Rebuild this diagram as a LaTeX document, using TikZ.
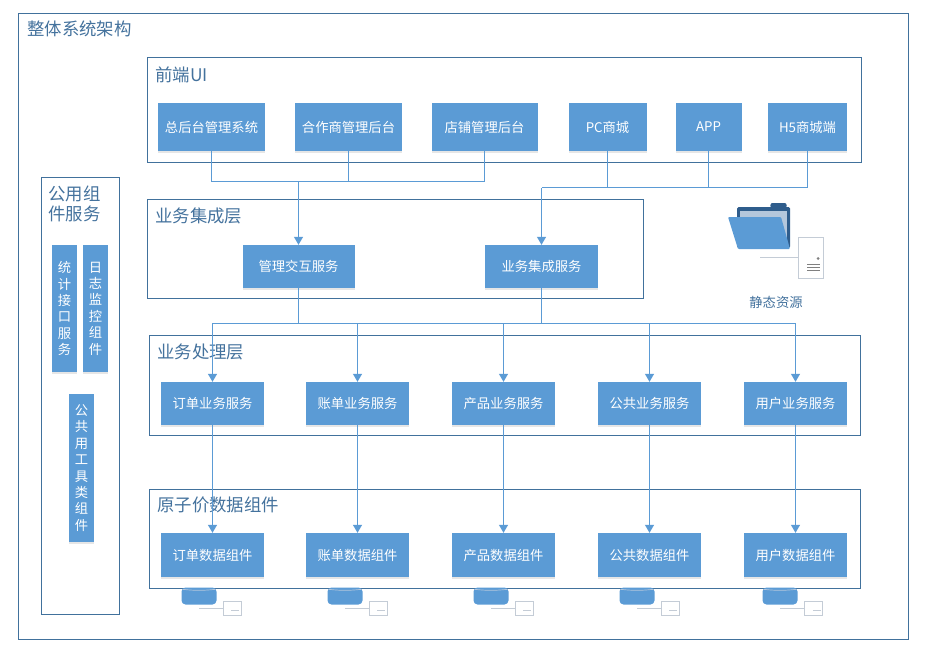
\documentclass[tikz,border=0pt]{standalone}
\usepackage{fontspec}
\setmainfont{Noto Sans CJK SC}
\usetikzlibrary{arrows.meta,shadows}
\definecolor{svcblue}{HTML}{5B9BD5}
\definecolor{framebl}{HTML}{41719C}
\definecolor{titlebl}{HTML}{44729D}
\definecolor{darkbl}{HTML}{2F5D8C}
\definecolor{paleblue}{HTML}{B4C7DC}
\definecolor{graybl}{HTML}{C4CCD6}
\tikzset{
  framebox/.style={draw=framebl,line width=0.8pt,inner sep=0pt},
  frametitle/.style={text=titlebl,font=\fontsize{17.4}{21}\selectfont,anchor=west,inner sep=0pt},
  svcbox/.style={fill=svcblue,text=white,font=\fontsize{13.3}{16}\selectfont,inner sep=0pt,
    drop shadow={shadow xshift=0pt,shadow yshift=-1.5pt,opacity=0.2,fill=gray}},
  vertbox/.style={svcbox,align=center,minimum width=25pt,font=\fontsize{13.3}{16.4}\selectfont},
  busline/.style={draw=svcblue,line width=1.2pt},
  arrowline/.style={busline,-{Triangle[width=9pt,length=8pt]}},
  dbicon/.style={fill=svcblue,rounded corners=4pt,minimum width=35pt,minimum height=17pt,inner sep=0pt},
  dbrim/.style={draw=paleblue,line width=0.7pt},
  docicon/.style={draw=graybl,fill=white,line width=0.7pt,minimum width=18pt,minimum height=14pt,inner sep=0pt},
  thinline/.style={draw=graybl,line width=0.7pt},
}
\begin{document}
\begin{tikzpicture}[x=1pt,y=-1pt]
\useasboundingbox (0,0) rectangle (928,656);

% frames
\node (system) at (463,326)[framebox,minimum width=890pt,minimum height=626pt] {};
\node (ui) at (504,109.5)[framebox,minimum width=714pt,minimum height=105pt] {};
\node (integ) at (395,248.5)[framebox,minimum width=496pt,minimum height=99pt] {};
\node (proc) at (504.5,385)[framebox,minimum width=711pt,minimum height=100pt] {};
\node (atom) at (504.5,538.5)[framebox,minimum width=711pt,minimum height=99pt] {};
\node (common) at (80,395.5)[framebox,minimum width=78pt,minimum height=437pt] {};

% frame titles
\node (systemtitle) at (27,29)[frametitle] {整体系统架构};
\node (uititle) at (155,75)[frametitle] {前端UI};
\node (integtitle) at (155,216)[frametitle] {业务集成层};
\node (proctitle) at (157,352)[frametitle] {业务处理层};
\node (atomtitle) at (157,505)[frametitle] {原子价数据组件};
\node (commontitle) at (48,204)[frametitle,align=left,font=\fontsize{17.4}{20}\selectfont] {公用组\\件服务};

% front end
\node (adminsys) at (211.5,127)[svcbox,minimum width=107pt,minimum height=48pt] {总后台管理系统};
\node (partner) at (348.5,127)[svcbox,minimum width=107pt,minimum height=48pt] {合作商管理后台};
\node (shop) at (484.5,127)[svcbox,minimum width=106pt,minimum height=48pt] {店铺管理后台};
\node (pc) at (607.5,127)[svcbox,minimum width=78pt,minimum height=48pt] {PC商城};
\node (app) at (708.5,127)[svcbox,minimum width=66pt,minimum height=48pt] {APP};
\node (hfive) at (807.5,127)[svcbox,minimum width=79pt,minimum height=48pt] {H5商城端};

% integration
\node (mgmt) at (298.5,266.5)[svcbox,minimum width=112pt,minimum height=43pt] {管理交互服务};
\node (bizint) at (541.5,266.5)[svcbox,minimum width=113pt,minimum height=43pt] {业务集成服务};

% processing
\node (ordersvc) at (212.5,403.5)[svcbox,minimum width=103pt,minimum height=43pt] {订单业务服务};
\node (billsvc) at (357.5,403.5)[svcbox,minimum width=103pt,minimum height=43pt] {账单业务服务};
\node (prodsvc) at (503.5,403.5)[svcbox,minimum width=103pt,minimum height=43pt] {产品业务服务};
\node (pubsvc) at (649.5,403.5)[svcbox,minimum width=103pt,minimum height=43pt] {公共业务服务};
\node (usersvc) at (795.5,403.5)[svcbox,minimum width=103pt,minimum height=43pt] {用户业务服务};

% data components
\node (orderdata) at (212.5,555)[svcbox,minimum width=103pt,minimum height=44pt] {订单数据组件};
\node (billdata) at (357.5,555)[svcbox,minimum width=103pt,minimum height=44pt] {账单数据组件};
\node (proddata) at (503.5,555)[svcbox,minimum width=103pt,minimum height=44pt] {产品数据组件};
\node (pubdata) at (649.5,555)[svcbox,minimum width=103pt,minimum height=44pt] {公共数据组件};
\node (userdata) at (795.5,555)[svcbox,minimum width=103pt,minimum height=44pt] {用户数据组件};

% common column
\node (stats) at (64.5,308.5)[vertbox,minimum height=127pt] {统\\计\\接\\口\\服\\务};
\node (logs) at (95.5,308.5)[vertbox,minimum height=127pt] {日\\志\\监\\控\\组\\件};
\node (tools) at (81.5,468)[vertbox,minimum height=148pt] {公\\共\\用\\工\\具\\类\\组\\件};

% front end to integration
\coordinate (busa) at (298.5,181.5);
\coordinate (busb) at (541.5,187.5);
\draw [busline] (adminsys.south) |- (busa);
\draw [busline] (partner.south) |- (busa);
\draw [busline] (shop.south) |- (busa);
\draw [arrowline] (busa) -- (mgmt.north);
\draw [busline] (pc.south) |- (busb);
\draw [busline] (app.south) |- (busb);
\draw [busline] (hfive.south) |- (busb);
\draw [arrowline] (busb) -- (bizint.north);

% integration to processing
\coordinate (busc) at (298.5,323.5);
\coordinate (busd) at (541.5,323.5);
\draw [busline] (mgmt.south) -- (busc);
\draw [busline] (bizint.south) -- (busd);
\draw [busline] (busc) -- (busd);
\draw [arrowline] (busc) -| (ordersvc.north);
\draw [arrowline] (busc) -| (billsvc.north);
\draw [arrowline] (busd) -| (prodsvc.north);
\draw [arrowline] (busd) -| (pubsvc.north);
\draw [arrowline] (busd) -| (usersvc.north);

% processing to data
\draw [arrowline] (ordersvc) -- (orderdata);
\draw [arrowline] (billsvc) -- (billdata);
\draw [arrowline] (prodsvc) -- (proddata);
\draw [arrowline] (pubsvc) -- (pubdata);
\draw [arrowline] (usersvc) -- (userdata);

% databases
\node (dba) at (199,596)[dbicon] {};
\node (dbb) at (345,596)[dbicon] {};
\node (dbc) at (491,596)[dbicon] {};
\node (dbd) at (637,596)[dbicon] {};
\node (dbe) at (780,596)[dbicon] {};
\draw [dbrim] ([shift={(1,2)}]dba.north west) to[bend right=6] ([shift={(-1,2)}]dba.north east);
\draw [dbrim] ([shift={(1,2)}]dbb.north west) to[bend right=6] ([shift={(-1,2)}]dbb.north east);
\draw [dbrim] ([shift={(1,2)}]dbc.north west) to[bend right=6] ([shift={(-1,2)}]dbc.north east);
\draw [dbrim] ([shift={(1,2)}]dbd.north west) to[bend right=6] ([shift={(-1,2)}]dbd.north east);
\draw [dbrim] ([shift={(1,2)}]dbe.north west) to[bend right=6] ([shift={(-1,2)}]dbe.north east);
\node (doca) at (232,608)[docicon] {};
\node (docb) at (378,608)[docicon] {};
\node (docc) at (524,608)[docicon] {};
\node (docd) at (670,608)[docicon] {};
\node (doce) at (813.5,608)[docicon] {};
\draw [thinline] (dba.south |- doca.west) -- (doca.west);
\draw [thinline] (dbb.south |- docb.west) -- (docb.west);
\draw [thinline] (dbc.south |- docc.west) -- (docc.west);
\draw [thinline] (dbd.south |- docd.west) -- (docd.west);
\draw [thinline] (dbe.south |- doce.west) -- (doce.west);
\draw [thinline] ([shift={(-10,2)}]doca.east) -- +(8,0) ([shift={(-10,2)}]docb.east) -- +(8,0) ([shift={(-10,2)}]docc.east) -- +(8,0) ([shift={(-10,2)}]docd.east) -- +(8,0) ([shift={(-10,2)}]doce.east) -- +(8,0);

% static resources
\fill [darkbl,rounded corners=1pt] (770,207) -- (771,203) -- (786,203) -- (787,207) -- cycle;
\fill [darkbl,rounded corners=1.5pt] (737,248) -- (737,207) -- (790,207) -- (790,248) -- cycle;
\fill [paleblue] (740,211) rectangle (787,248);
\fill [svcblue,rounded corners=1pt] (728,217) -- (781,217) -- (790,249) -- (738,249) -- cycle;
\node (server) at (811,257.5)[docicon,minimum width=25pt,minimum height=41pt] {};
\coordinate (serverline) at (760,257.5);
\draw [thinline] (serverline) -- (server.west);
\fill [gray] ([shift={(7,1)}]server.center) circle (1.5pt);
\draw [gray,line width=0.6pt] ([shift={(-4,7)}]server.center) -- +(13,0) ([shift={(-4,10)}]server.center) -- +(13,0) ([shift={(-4,13)}]server.center) -- +(13,0);
\node (staticres) at (776,302)[text=titlebl,font=\fontsize{13.3}{16}\selectfont,inner sep=0pt] {静态资源};

\end{tikzpicture}
\end{document}
